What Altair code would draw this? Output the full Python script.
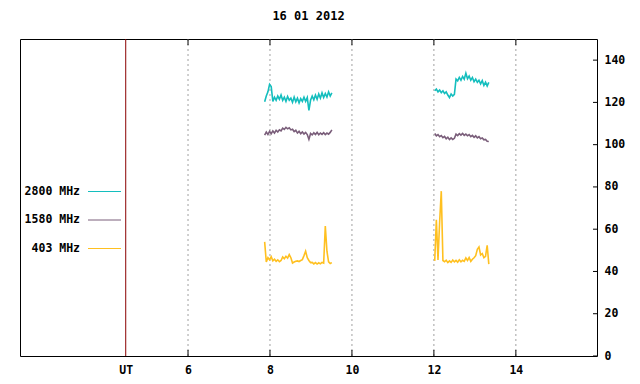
import altair as alt
import pandas as pd

FONT = "DejaVu Sans Mono"

# sampling of the two observing windows (UT hours)
seg_starts = [7.87, 12.02]
step = 0.04

# flux values, window 1
f2800_a = [120.3, 123, 125, 128.5, 127.5, 120.5, 122.5, 121, 123, 121.5,
           123.5, 121, 122.5, 120.5, 122.8, 121, 122, 120, 122.5, 120.3,
           122, 119.8, 121.8, 120.5, 122.5, 120.5, 122.3, 116.2, 121, 123,
           121.2, 123.5, 121.5, 124, 122, 124.5, 122.3, 124.2, 122.5, 125,
           123, 124.5]
f1580_a = [104.5, 106, 104.8, 106.3, 105.2, 106.5, 105.5, 106.8, 106, 107,
           106.5, 107.8, 107.2, 108.2, 107.5, 108, 107, 107.3, 106.2, 106.8,
           105.5, 106.3, 105.2, 106, 105, 105.8, 104.8, 102.5, 105.3, 104.6,
           105.6, 104.8, 105.8, 104.7, 105.5, 104.9, 105.7, 104.8, 105.5, 105,
           105.8, 107]
f403_a = [54, 44.5, 46.5, 45.5, 47, 45, 45.8, 44.8, 45.5, 44.6,
          45.2, 46.9, 46, 47.2, 46.3, 48, 46.5, 44, 44.5, 44.8,
          45, 44.7, 45.2, 45.6, 47.5, 49.6, 46.5, 45.2, 44.2, 44.3,
          43.6, 44.2, 43.5, 44.1, 43.6, 44.3, 44, 61.5, 49.6, 44.5,
          43.8, 44.2]
# flux values, window 2
f2800_b = [125.5, 126.3, 125, 125.8, 124.6, 125.5, 124.2, 125, 123.5, 122.3,
           124, 123, 123.8, 131, 130.2, 131.8, 130.5, 132.3, 131, 133.8,
           131.2, 132.5, 130.5, 131.8, 129.8, 131, 129.5, 130.5, 128.8, 130.3,
           128, 129.6, 127.8, 129.5]
f1580_b = [105.3, 104.2, 104.8, 103.8, 104.3, 103.3, 103.9, 102.8, 103.5, 102.4,
           103.2, 102.5, 103, 105, 104.3, 105.2, 104.5, 105.3, 104.4, 105,
           104.2, 104.8, 103.8, 104.4, 103.5, 104.2, 103.2, 103.8, 102.8, 103.2,
           102.3, 102.5, 101.6, 101.5]
f403_b = [45, 64.5, 45.5, 63.5, 78, 45.2, 44.6, 45.3, 44.2, 45,
          44.3, 45.4, 44.5, 45.2, 44.4, 45.5, 44.6, 45.3, 44.8, 46.4,
          45.2, 46.6, 44.8, 45.8, 46.5, 47.5, 50.5, 51.6, 47.8, 48.5,
          46.5, 47.2, 52.4, 43.5]

series_names = ["2800 MHz", "1580 MHz", "403 MHz"]
series_colors = ["#14BEBE", "#7A5E7A", "#FFC020"]

grid_hours = [6, 8, 10, 12, 14]
ut_hour = 4.48
x_label_values = [ut_hour] + grid_hours
y_ticks = [0, 20, 40, 60, 80, 100, 120, 140]
x_domain = [1.9, 15.98]
y_domain = [0, 150]

W, H = 577, 317

rows = []
segments = [
    [f2800_a, f1580_a, f403_a],
    [f2800_b, f1580_b, f403_b],
]
for si, (start, vals_list) in enumerate(zip(seg_starts, segments)):
    for name, vals in zip(series_names, vals_list):
        for i, v in enumerate(vals):
            rows.append({"t": start + i * step, "v": v, "series": name, "seg": si})
df = pd.DataFrame(rows)

X = alt.X("t:Q", scale=alt.Scale(domain=x_domain, nice=False, zero=False),
          axis=alt.Axis(orient="bottom", values=x_label_values, ticks=False, domain=False,
                        grid=False, labelFont=FONT, labelFontSize=11.5, labelFontWeight="bold",
                        labelColor="black", labelPadding=8, labelFlush=False,
                        labelExpr=f"datum.value == {ut_hour} ? 'UT' : datum.label"),
          title=None)
Y = alt.Y("v:Q", scale=alt.Scale(domain=y_domain, nice=False, zero=False),
          axis=alt.Axis(orient="right", values=y_ticks, ticks=False, domain=False, grid=False,
                        labelFont=FONT, labelFontSize=11.5, labelFontWeight="bold",
                        labelColor="black", labelPadding=7, labelFlush=False),
          title=None)

grid_df = pd.DataFrame({"t": grid_hours})
ut_df = pd.DataFrame({"t": [ut_hour]})
ytick_df = pd.DataFrame({"v": y_ticks})

grid = alt.Chart(grid_df).mark_rule(color="#A0A0A0", strokeDash=[2, 3], strokeWidth=1).encode(x=X)
ut = alt.Chart(ut_df).mark_rule(color="#8B0000", strokeWidth=1).encode(x=X)
tick_bottom = alt.Chart(grid_df).mark_rule(color="black").encode(
    x=X, y=alt.value(H - 6), y2=alt.value(H))
tick_top = alt.Chart(grid_df).mark_rule(color="black").encode(
    x=X, y=alt.value(0), y2=alt.value(6))
tick_right = alt.Chart(ytick_df).mark_rule(color="black").encode(
    y=Y, x=alt.value(W - 4), x2=alt.value(W))

lines = alt.Chart(df).mark_line(strokeWidth=1.6).encode(
    x=X, y=Y,
    color=alt.Color("series:N", scale=alt.Scale(domain=series_names, range=series_colors), legend=None),
    detail="seg:N",
    order="t:Q",
)

legend_y = [152.5, 181, 209.5]
one = pd.DataFrame({"a": [0]})
legend_layers = []
for name, col, ly in zip(series_names, series_colors, legend_y):
    legend_layers.append(
        alt.Chart(one).mark_text(align="right", baseline="middle", font=FONT, fontSize=11.5,
                                 fontWeight="bold", color="black").encode(
            x=alt.value(60), y=alt.value(ly), text=alt.value(name)))
    legend_layers.append(
        alt.Chart(one).mark_rule(color=col, strokeWidth=1).encode(
            x=alt.value(68), x2=alt.value(101), y=alt.value(ly)))

chart = alt.layer(grid, ut, tick_bottom, tick_top, tick_right, lines, *legend_layers).properties(
    width=W, height=H,
    title=alt.TitleParams("16 01 2012", font=FONT, fontSize=12, fontWeight="bold",
                          anchor="middle", offset=16, color="black"),
    autosize=alt.AutoSizeParams(type="none"),
    padding={"left": 12, "top": 31, "right": 35, "bottom": 25},
).configure_view(stroke="black", strokeWidth=1)

chart.save("out.html", embed_options={"renderer": "svg", "actions": False})
